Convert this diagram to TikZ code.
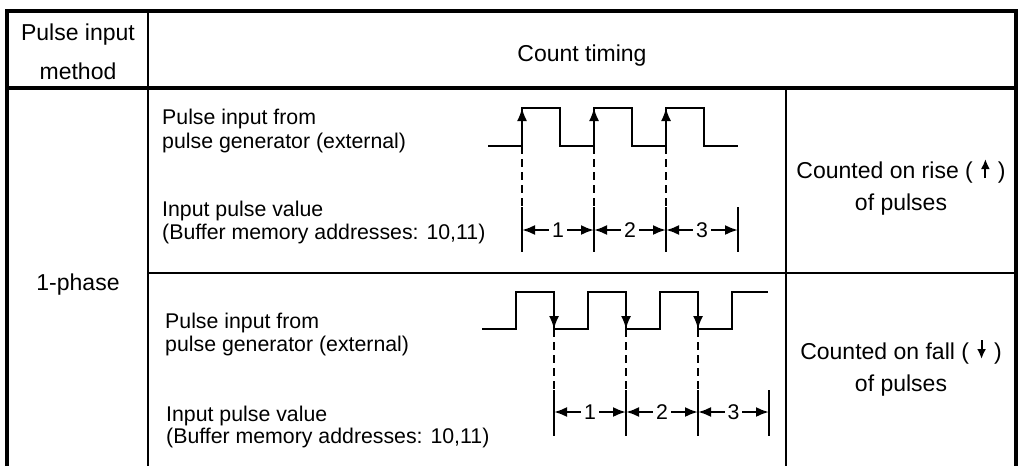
\documentclass[tikz,border=0pt]{standalone}
\usepackage{fontspec}
\setmainfont{Liberation Sans}
\usetikzlibrary{arrows.meta}
\newcommand{\edgeup}{\tikz[x=1pt,y=1pt,baseline=0pt]\draw[line width=2pt,-{Latex[length=10pt,width=9pt]}] (0,0) -- (0,19);}
\newcommand{\edgedown}{\tikz[x=1pt,y=1pt,baseline=0pt]\draw[line width=2pt,-{Latex[length=10pt,width=9pt]}] (0,19) -- (0,0);}

\begin{document}
\begin{tikzpicture}[x=1pt,y=-1pt,>={Latex[length=13pt,width=10pt]},line join=miter,
	frame/.style={line width=3.5pt},
	rule/.style={line width=2.5pt},
	wave/.style={line width=1.8pt},
	guide/.style={line width=2.2pt,dash pattern=on 8pt off 5pt},
	tick/.style={line width=2.2pt},
	big/.style={font=\fontsize{23}{28}\selectfont,anchor=base,inner sep=0pt},
	small/.style={font=\fontsize{21.3}{24}\selectfont,anchor=base west,inner sep=0pt},
	num/.style={font=\fontsize{21.3}{24}\selectfont,fill=white,inner sep=3pt}]
	\useasboundingbox (0,0) rectangle (1019,466);
	% table
	\draw[frame] (7,466) -- (7,11) -- (1016,11) -- (1016,466);
	\draw[frame] (7,88) -- (1016,88);
	\draw[rule] (148,11) -- (148,466);
	\draw[rule] (148,273) -- (1016,273);
	\draw[rule] (786,88) -- (786,466);
	% headings
	\node[big] (methodA) at (78,40) {Pulse input};
	\node[big] (methodB) at (78,79) {method};
	\node[big] (timing) at (582,61) {Count timing};
	\node[big] (phase) at (78,290) {1-phase};
	\node[big] (riseA) at (901,178) {Counted on rise (\hspace{8pt}\edgeup\hspace{8pt})};
	\node[big] (riseB) at (901,210) {of pulses};
	\node[big] (fallA) at (901,359) {Counted on fall (\hspace{8pt}\edgedown\hspace{8pt})};
	\node[big] (fallB) at (901,391) {of pulses};
	% rise count
	\node[small] (srcA) at (162,124) {Pulse input from};
	\node[small] (srcB) at (162,148) {pulse generator (external)};
	\node[small] (valA) at (162,216) {Input pulse value};
	\node[small] (valB) at (162,239) {(Buffer memory addresses: 10,11)};
	\draw[wave] (488,146) \foreach \x in {522,594,666} {-- (\x,146) -- (\x,108) -- (\x+38,108) -- (\x+38,146)} -- (738,146);
	\foreach \x in {522,594,666} {
		\draw[wave,->] (\x,146) -- (\x,108);
		\draw[guide] (\x,146) -- (\x,207);
	}
	\foreach \x [count=\i] in {522,594,666,738} {
		\draw[tick] (\x,207) -- (\x,252);
		\coordinate (ut\i) at (\x,230);
	}
	\draw[tick,<->] (ut1) -- (ut2) node[num,midway] (un1) {1};
	\draw[tick,<->] (ut2) -- (ut3) node[num,midway] (un2) {2};
	\draw[tick,<->] (ut3) -- (ut4) node[num,midway] (un3) {3};
	% fall count
	\node[small] (srcC) at (165,328) {Pulse input from};
	\node[small] (srcD) at (165,351) {pulse generator (external)};
	\node[small] (valC) at (166,421) {Input pulse value};
	\node[small] (valD) at (166,443) {(Buffer memory addresses: 10,11)};
	\draw[wave] (482,329) \foreach \x in {516,588,660} {-- (\x,329) -- (\x,292) -- (\x+38,292) -- (\x+38,329)} -- (732,329) -- (732,292) -- (768,292);
	\foreach \x in {554,626,698} {
		\draw[wave,->] (\x,292) -- (\x,329);
		\draw[guide] (\x,329) -- (\x,390);
	}
	\foreach \x [count=\i] in {554,626,698,769} {
		\draw[tick] (\x,390) -- (\x,436);
		\coordinate (lt\i) at (\x,412);
	}
	\draw[tick,<->] (lt1) -- (lt2) node[num,midway] (ln1) {1};
	\draw[tick,<->] (lt2) -- (lt3) node[num,midway] (ln2) {2};
	\draw[tick,<->] (lt3) -- (lt4) node[num,midway] (ln3) {3};
\end{tikzpicture}
\end{document}
